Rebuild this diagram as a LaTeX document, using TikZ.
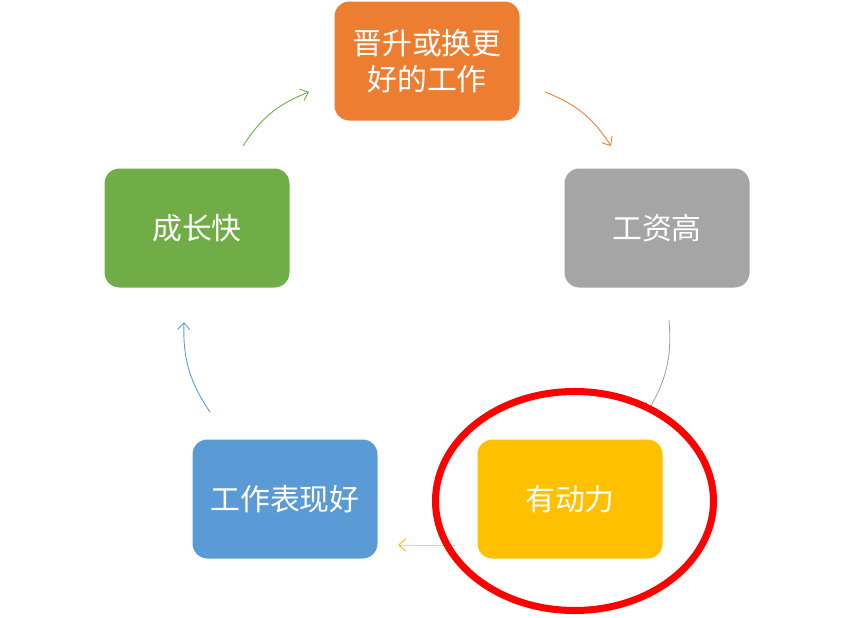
\documentclass[tikz,border=0pt]{standalone}
\usepackage{fontspec}
\usetikzlibrary{arrows.meta}
\newfontfamily\cjk{Noto Sans CJK SC}
\definecolor{boxorange}{HTML}{ED7D31}
\definecolor{boxgray}{HTML}{A5A5A5}
\definecolor{boxyellow}{HTML}{FFC000}
\definecolor{boxblue}{HTML}{5B9BD5}
\definecolor{boxgreen}{HTML}{70AD47}
\tikzset{
  stage/.style={rounded corners=0.3cm, minimum width=3.7cm, minimum height=2.38cm,
    text=white, align=center, font=\cjk\fontsize{17}{20.5}\selectfont},
  flow/.style={-{Straight Barb[length=4pt,width=7pt]}, line width=0.5pt, bend left=18}
}
\begin{document}
\begin{tikzpicture}
    \useasboundingbox (0,0) rectangle (17.08,12.34);
    \node [stage, fill=boxorange] (promote) at (8.54,11.12) {晋升或换更\\好的工作};
    \node [stage, fill=boxgray] (salary) at (13.14,7.78) {工资高};
    \node [stage, fill=boxyellow] (motive) at (11.40,2.36) {有动力};
    \node [stage, fill=boxblue] (perform) at (5.70,2.36) {工作表现好};
    \node [stage, fill=boxgreen] (grow) at (3.94,7.78) {成长快};
    % arrow ends
    \coordinate (g1) at (4.86,9.42);
    \coordinate (g2) at (6.18,10.50);
    \coordinate (o1) at (10.90,10.50);
    \coordinate (o2) at (12.22,9.42);
    \coordinate (s1) at (13.38,5.94);
    \coordinate (s2) at (12.95,4.11);
    \coordinate (y1) at (9.10,1.44);
    \coordinate (y2) at (7.96,1.44);
    \coordinate (b1) at (4.20,4.10);
    \coordinate (b2) at (3.68,5.90);
    \draw [flow, color=boxgreen] (g1) to (g2);
    \draw [flow, color=boxorange] (o1) to (o2);
    \draw [flow, color=boxgray] (s1) to (s2);
    \draw [flow, color=boxyellow, bend left=0] (y1) to (y2);
    \draw [flow, color=boxblue] (b1) to (b2);
    \draw [color=red, line width=4pt] (11.49,2.32) ellipse (2.78cm and 2.19cm);
\end{tikzpicture}
\end{document}
